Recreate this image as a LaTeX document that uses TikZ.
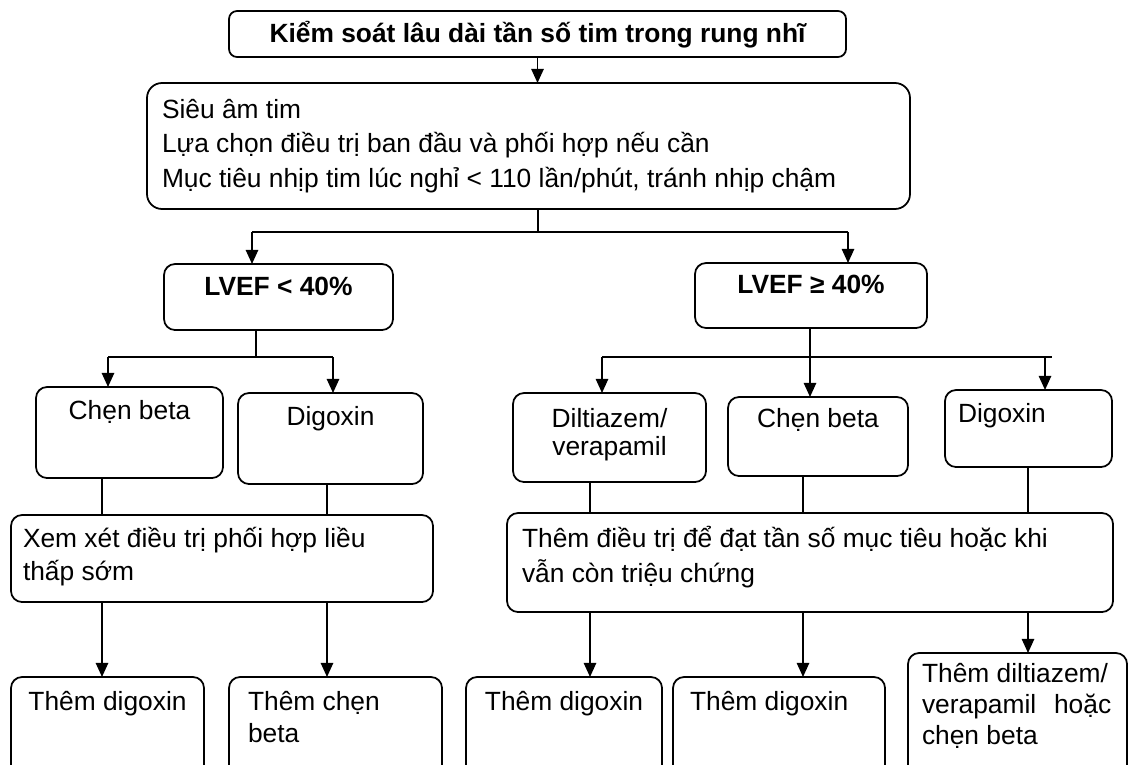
\documentclass[tikz,border=0pt]{standalone}
\usepackage{fontspec}
\setmainfont{Liberation Sans}
\usetikzlibrary{arrows.meta}
\newlength\pxu \setlength\pxu{0.02cm}
% text of one box: width, height, first baseline, alignment, text
\newcommand{\boxtext}[5]{\begin{minipage}[t][#2\pxu][t]{#1\pxu}#4\rule{0pt}{#3\pxu}#5\end{minipage}}
\newcommand{\leftpad}[1]{\raggedright\leftskip=#1\pxu\relax}
\newcommand{\linesp}[1]{\setlength\baselineskip{#1\pxu}}
\begin{document}
\begin{tikzpicture}[x=0.02cm, y=-0.02cm,
    box/.style={draw, line width=1pt, rounded corners=0.22cm, inner sep=0pt, outer sep=0pt,
      anchor=north west, font=\fontsize{15pt}{19.8pt}\selectfont},
    link/.style={line width=1pt},
    arr/.style={line width=1pt, -{Triangle[length=8pt,width=7pt]}}]
\useasboundingbox (0,0) rectangle (1128,764);
\clip (0,0) rectangle (1128,764);

% top
\node[box, rounded corners=0.16cm] (title) at (229,11)
  {\boxtext{617}{46}{31}{\centering\bfseries}{Kiểm soát lâu dài tần số tim trong rung nhĩ}};
\node[box, rounded corners=0.3cm] (main) at (147,83)
  {\boxtext{763}{126}{35}{\leftpad{15}}{Siêu âm tim\\ Lựa chọn điều trị ban đầu và phối hợp nếu cần\\ Mục tiêu nhịp tim lúc nghỉ < 110 lần/phút, tránh nhịp chậm}};
\node[box] (lvefa) at (164,264) {\boxtext{229}{66}{31}{\centering\bfseries}{LVEF < 40\%}};
\node[box] (lvefb) at (695,263) {\boxtext{232}{65}{30}{\centering\bfseries}{LVEF ≥ 40\%}};

% left branch
\node[box] (cba) at (36,387) {\boxtext{187}{91}{32}{\centering}{Chẹn beta}};
\node[box] (dga) at (238,393) {\boxtext{185}{91}{32}{\centering}{Digoxin}};
\node[box] (xem) at (11,515)
  {\boxtext{422}{87}{32}{\leftpad{12}\linesp{33}}{Xem xét điều trị phối hợp liều\\ thấp sớm}};
\node[box] (tda) at (11,677) {\boxtext{193}{100}{33}{\centering}{Thêm digoxin}};
\node[box] (tcb) at (229,677) {\boxtext{213}{100}{33}{\leftpad{19}\linesp{32}}{Thêm chẹn\\ beta}};

% right branch
\node[box] (dil) at (513,393) {\boxtext{193}{89}{34}{\centering\linesp{28}}{Diltiazem/\\ verapamil}};
\node[box] (cbb) at (728,397) {\boxtext{180}{79}{30}{\centering}{Chẹn beta}};
\node[box] (dgb) at (945,390) {\boxtext{167}{77}{32}{\leftpad{13}}{Digoxin}};
\node[box] (them) at (507,513)
  {\boxtext{606}{99}{34}{\leftpad{15}\linesp{35}}{Thêm điều trị để đạt tần số mục tiêu hoặc khi\\ vẫn còn triệu chứng}};
\node[box] (tdb) at (466,677) {\boxtext{196}{100}{33}{\centering}{Thêm digoxin}};
\node[box] (tdc) at (673,677) {\boxtext{212}{100}{33}{\leftpad{17}}{Thêm digoxin}};
\node[box] (tdv) at (908,653)
  {\boxtext{219}{130}{29}{\leftpad{14}\linesp{31}}{Thêm diltiazem/\\ verapamil\hspace{0.4em} hoặc\\ chẹn beta}};

% junctions
\coordinate (jtop) at (538,232);
\coordinate (jl) at (252,232);
\coordinate (jr) at (848,232);
\coordinate (ja) at (256,357);
\coordinate (jal) at (108,357);
\coordinate (jar) at (333,357);
\coordinate (jb) at (810,357);
\coordinate (jbl) at (602,357);
\coordinate (jbr) at (1045,357);
\coordinate (k1) at (102,0);
\coordinate (k2) at (327,0);
\coordinate (k3) at (590,0);
\coordinate (k4) at (803,0);
\coordinate (k5) at (1028,0);

% connectors
\draw[arr] (title.south) -- (title.south |- main.north);
\draw[link] (main.south -| jtop) -- (jtop);
\draw[link] (jl) -- (jr);
\draw[arr] (jl) -- (jl |- lvefa.north);
\draw[arr] (jr) -- (jr |- lvefb.north);

\draw[link] (lvefa.south -| ja) -- (ja);
\draw[link] (jal) -- (jar);
\draw[arr] (jal) -- (jal |- cba.north);
\draw[arr] (jar) -- (jar |- dga.north);

\draw[arr] (lvefb.south -| jb) -- (jb |- cbb.north);
\draw[link] (jbl) -- ([xshift=4pt]jbr);
\draw[arr] (jbl) -- (jbl |- dil.north);
\draw[arr] (jbr) -- (jbr |- dgb.north);

\draw[link] (cba.south -| k1) -- (xem.north -| k1);
\draw[link] (dga.south -| k2) -- (xem.north -| k2);
\draw[link] (dil.south -| k3) -- (them.north -| k3);
\draw[link] (cbb.south -| k4) -- (them.north -| k4);
\draw[link] (dgb.south -| k5) -- (them.north -| k5);

\draw[arr] (xem.south -| k1) -- (tda.north -| k1);
\draw[arr] (xem.south -| k2) -- (tcb.north -| k2);
\draw[arr] (them.south -| k3) -- (tdb.north -| k3);
\draw[arr] (them.south -| k4) -- (tdc.north -| k4);
\draw[arr] (them.south -| k5) -- (tdv.north -| k5);
\end{tikzpicture}
\end{document}
